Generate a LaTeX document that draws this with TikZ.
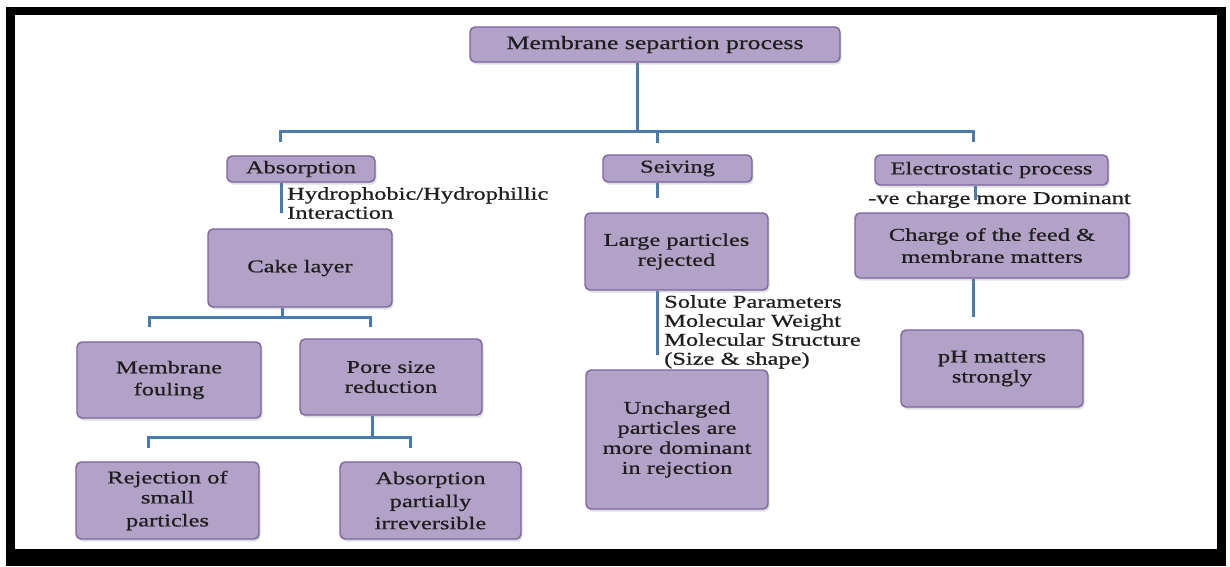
\documentclass[tikz,border=0pt]{standalone}
\usepackage{fontspec}
\setmainfont{Liberation Serif}[FakeStretch=1.36,FakeBold=0.7]
\usetikzlibrary{shadows}
\definecolor{boxfill}{HTML}{B3A2C7}
\definecolor{boxdraw}{HTML}{7D649E}
\definecolor{linecol}{HTML}{4A7AB2}
\definecolor{txt}{HTML}{1E1E1E}
\tikzset{
  pbox/.style={draw=boxdraw, fill=boxfill, line width=1.4pt, rounded corners=5pt,
    align=center, text=txt, inner sep=2pt,
    font=\fontsize{18}{20}\selectfont,
    drop shadow={opacity=0.25, shadow xshift=1.5pt, shadow yshift=-2.5pt}},
  conn/.style={draw=linecol, line width=3pt},
  note/.style={text=txt, align=left, inner sep=0pt, font=\fontsize{18}{19}\selectfont}
}
\begin{document}
\begin{tikzpicture}[x=1pt, y=-1pt]
\useasboundingbox (0,0) rectangle (1230,566);
% frame
\fill[black] (6,7) rectangle (1226,566);
\fill[white] (15,15) rectangle (1217,549);

% boxes
\node[pbox, minimum width=370pt, minimum height=35pt, font=\fontsize{19}{21}\selectfont] (top) at (655,44.5) {Membrane separtion process};
\node[pbox, minimum width=148pt, minimum height=26pt] (abs) at (301,169) {Absorption};
\node[pbox, minimum width=149pt, minimum height=27pt] (seiv) at (677.5,168.5) {Seiving};
\node[pbox, minimum width=233pt, minimum height=30pt] (elec) at (991.5,170) {Electrostatic process};
\node[pbox, minimum width=184pt, minimum height=78pt] (cake) at (300,268) {Cake layer};
\node[pbox, minimum width=184pt, minimum height=76pt] (foul) at (169,380) {Membrane\\[2pt]fouling};
\node[pbox, minimum width=182pt, minimum height=76pt] (pore) at (391,377) {Pore size\\reduction};
\node[pbox, minimum width=183pt, minimum height=77pt] (rej) at (167.5,500.5) {Rejection of\\small\\[3pt]particles};
\node[pbox, minimum width=181pt, minimum height=77pt] (absp) at (430.5,500.5) {Absorption\\[3pt]partially\\[2pt]irreversible};
\node[pbox, minimum width=183pt, minimum height=77pt] (large) at (676.5,251.5) {Large particles\\rejected};
\node[pbox, minimum width=182pt, minimum height=139pt] (unch) at (677,439.5) {Uncharged\\particles are\\more dominant\\in rejection};
\node[pbox, minimum width=274pt, minimum height=65pt] (charge) at (992,245.5) {Charge of the feed \&\\[2pt]membrane matters};
\node[pbox, minimum width=182pt, minimum height=77pt] (ph) at (992,368.5) {pH matters\\strongly};

% bus coordinates
\coordinate (b0) at (637,131);
\coordinate (bL) at (280,131);
\coordinate (bR) at (973,131);
\coordinate (tA) at (280,142);
\coordinate (tS) at (657,143);
\coordinate (tE) at (973,142);
\coordinate (c0) at (282,317);
\coordinate (cL) at (149,317);
\coordinate (cR) at (370,317);
\coordinate (tF) at (149,327);
\coordinate (tP) at (370,327);
\coordinate (p0) at (372,437);
\coordinate (pL) at (148,437);
\coordinate (pR) at (410,437);
\coordinate (tR) at (148,448);
\coordinate (tB) at (410,448);
\coordinate (a1) at (281,213);
\coordinate (s1) at (657,198);
\coordinate (l1) at (657,355);
\coordinate (e1) at (975,200);
\coordinate (h1) at (973,317);

% connectors
\draw[conn] (top.south -| b0) -- (b0);
\draw[conn] (tA) -- (bL) -- (bR) -- (tE);
\draw[conn] (b0 -| tS) -- (tS);
\draw[conn] (abs.south -| a1) -- (a1);
\draw[conn] (cake.south -| c0) -- (c0);
\draw[conn] (tF) -- (cL) -- (cR) -- (tP);
\draw[conn] (pore.south -| p0) -- (p0);
\draw[conn] (tR) -- (pL) -- (pR) -- (tB);
\draw[conn] (seiv.south -| s1) -- (s1);
\draw[conn] (large.south -| l1) -- (l1);
\draw[conn] (elec.south -| e1) -- (e1);
\draw[conn] (charge.south -| h1) -- (h1);

% annotations
\node[note, anchor=north west] (hyd) at (287,187) {Hydrophobic/Hydrophillic\\Interaction};
\node[note, anchor=north west] (sol) at (664,295) {Solute Parameters\\Molecular Weight\\Molecular Structure\\(Size \& shape)};
\node[note, anchor=base west] (neg) at (868,204) {-ve charge more Dominant};
\end{tikzpicture}
\end{document}
